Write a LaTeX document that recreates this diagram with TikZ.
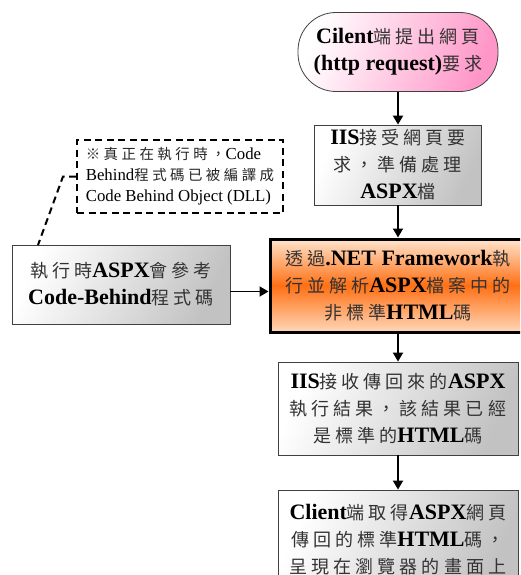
\documentclass[tikz,border=0pt]{standalone}
\usepackage{fontspec}
\setmainfont{Liberation Serif}
\newfontfamily\cjk{Noto Sans CJK TC}[Scale=0.82,LetterSpace=22]
\newfontfamily\cjknote{Noto Sans CJK TC}[Scale=0.86,LetterSpace=24]
\usetikzlibrary{arrows.meta}

\newcommand*{\zh}[1]{{\cjk\mdseries\color{black!80}#1}}
\newcommand*{\zhn}[1]{{\cjknote\mdseries\color{black!85}#1}}

\begin{document}
\begin{tikzpicture}
[
	x=1pt, y=-1pt,
	box/.style={draw=black!75,line width=0.8pt,align=center,inner sep=0pt,
		font=\fontsize{22}{27}\selectfont\bfseries},
	graybox/.style={box,left color=white,right color=black!24,shading angle=65},
	reqbox/.style={box,rounded corners=38pt,left color=white,
		right color={rgb,255:red,255;green,150;blue,200},shading angle=70},
	hotbox/.style={box,draw=black,line width=3pt,
		top color={rgb,255:red,255;green,228;blue,205},
		bottom color={rgb,255:red,255;green,215;blue,185},
		middle color={rgb,255:red,255;green,112;blue,20}},
	notebox/.style={draw,line width=2pt,dash pattern=on 7pt off 4.5pt,fill=white,
		align=left,inner xsep=4pt,inner ysep=0pt,font=\fontsize{16.8}{21}\selectfont},
	callout/.style={line width=2pt,dash pattern=on 7pt off 4.5pt},
	arr/.style={-{Triangle[length=9pt,width=10pt]},line width=1.8pt}
]

	\useasboundingbox[fill=white] (0,0) rectangle (520,575);
	\clip (0,0) rectangle (520,575);

	% main flow
	\node[reqbox,minimum width=200,minimum height=79] (req) at (398,52)
		{Cilent\zh{端提出網頁}\\(http request)\zh{要求}};
	\node[graybox,minimum width=167,minimum height=80] (iis) at (398,165)
		{IIS\zh{接受網頁要}\\\zh{求，準備處理}\\ASPX\zh{檔}};
	\node[hotbox,minimum width=256,minimum height=93] (net) at (398,285.5)
		{\zh{透過}.NET Framework\zh{執}\\\zh{行並解析}ASPX\zh{檔案中的}\\\zh{非標準}HTML\zh{碼}};
	\node[graybox,minimum width=240,minimum height=93] (back) at (398,408.5)
		{IIS\zh{接收傳回來的}ASPX\\\zh{執行結果，該結果已經}\\\zh{是標準的}HTML\zh{碼}};
	\node[graybox,minimum width=240,minimum height=100] (show) at (398,540)
		{Client\zh{端取得}ASPX\zh{網頁}\\\zh{傳回的標準}HTML\zh{碼，}\\\zh{呈現在瀏覽器的畫面上}};

	% code behind and note
	\node[graybox,minimum width=218,minimum height=79] (code) at (121,284.5)
		{\zh{執行時}ASPX\zh{會參考}\\Code-Behind\zh{程式碼}};
	\node[notebox,minimum width=206,minimum height=73] (note) at (180,176.5)
		{\zhn{※真正在執行時，}Code\\Behind\zhn{程式碼已被編譯成}\\Code Behind Object (DLL)};
	\coordinate (tail) at (38,245);

	% connectors
	\draw[arr] (req.south) -- (iis.north);
	\draw[arr] (iis.south) -- (net.north);
	\draw[arr] ([yshift=-7pt]code.east) -- ([yshift=-7pt]code.east -| net.west);
	\draw[arr] (net.south) -- (back.north);
	\draw[arr] (back.south) -- (show.north);
	\draw[callout] (note.west) -- ++(-13,0) -- (tail);

\end{tikzpicture}
\end{document}
